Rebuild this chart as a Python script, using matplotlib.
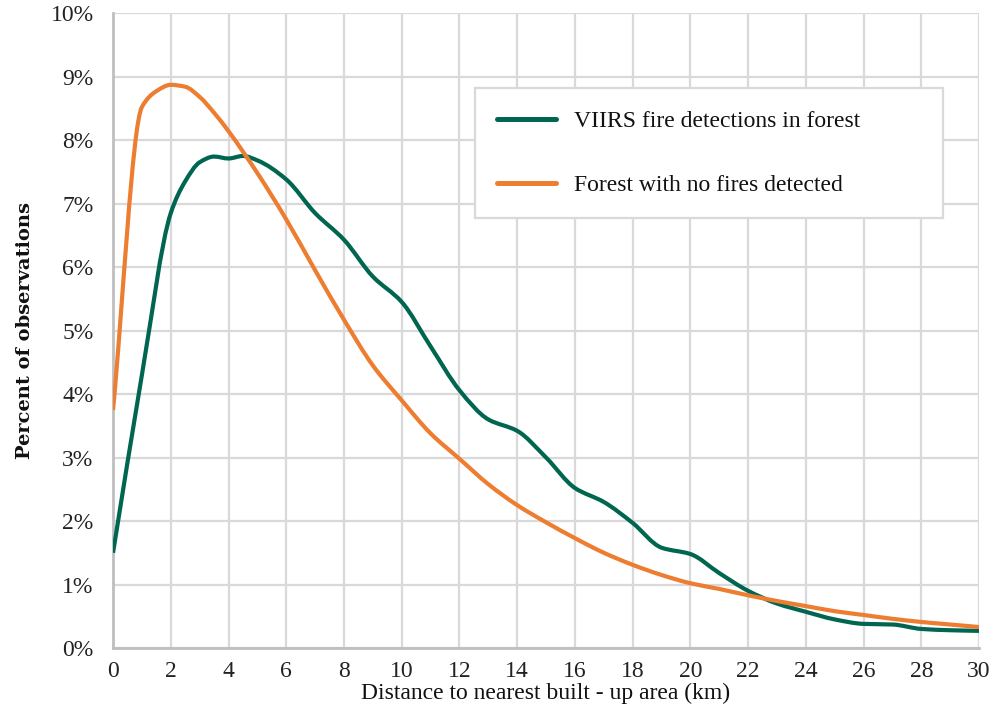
import matplotlib
matplotlib.use("Agg")
import matplotlib.pyplot as plt
from matplotlib.lines import Line2D
from matplotlib.patches import PathPatch
from matplotlib.path import Path
from matplotlib.ticker import FuncFormatter

plt.rcParams["font.family"] = ["Liberation Serif", "DejaVu Serif"]

# distance to nearest built-up area (km)
dist_fire = [0, 1, 2, 2.5, 3, 3.5, 4, 4.5, 5, 6, 7, 8, 9, 10, 11, 12, 13, 14, 15,
             16, 17, 18, 19, 20, 21, 22, 23, 24, 25, 26, 27, 28, 29, 30]
pct_fire = [1.5, 4.3, 6.85, 7.35, 7.65, 7.74, 7.71, 7.75, 7.68, 7.38, 6.85, 6.43,
            5.85, 5.45, 4.75, 4.06, 3.6, 3.42, 3.0, 2.52, 2.3, 1.97, 1.58, 1.48,
            1.18, 0.9, 0.7, 0.57, 0.45, 0.38, 0.37, 0.3, 0.28, 0.27]

dist_nofire = [0, 1, 1.5, 2, 2.5, 3, 3.5, 4, 5, 6, 7, 8, 9, 10, 11, 12, 13, 14, 15,
               16, 17, 18, 19, 20, 21, 22, 23, 24, 25, 26, 27, 28, 29, 30]
pct_nofire = [3.75, 8.52, 8.77, 8.87, 8.84, 8.68, 8.43, 8.14, 7.48, 6.75, 5.95,
              5.17, 4.45, 3.9, 3.38, 2.98, 2.58, 2.25, 1.98, 1.73, 1.5, 1.31, 1.15,
              1.02, 0.93, 0.83, 0.74, 0.66, 0.58, 0.52, 0.46, 0.41, 0.37, 0.33]

labels = ["VIIRS fire detections in forest", "Forest with no fires detected"]

GREEN = "#00664f"
ORANGE = "#ed7d31"


def smooth_path(xs, ys):
    # smoothed line drawn as cubic Bezier segments through the points (pchip tangents)
    n = len(xs)
    h = [xs[i + 1] - xs[i] for i in range(n - 1)]
    d = [(ys[i + 1] - ys[i]) / h[i] for i in range(n - 1)]
    m = [d[0]] + [0.0] * (n - 2) + [d[-1]]
    for k in range(1, n - 1):
        if d[k - 1] * d[k] > 0:
            w1 = 2 * h[k] + h[k - 1]
            w2 = h[k] + 2 * h[k - 1]
            m[k] = (w1 + w2) / (w1 / d[k - 1] + w2 / d[k])
    verts = [(xs[0], ys[0])]
    codes = [Path.MOVETO]
    for i in range(n - 1):
        verts += [(xs[i] + h[i] / 3, ys[i] + m[i] * h[i] / 3),
                  (xs[i + 1] - h[i] / 3, ys[i + 1] - m[i + 1] * h[i] / 3),
                  (xs[i + 1], ys[i + 1])]
        codes += [Path.CURVE4] * 3
    return Path(verts, codes)


fig = plt.figure(figsize=(9.95, 7.15), dpi=100)
ax = fig.add_axes([0.1136, 0.0937, 0.8704, 0.888])

for xs, ys, c in [(dist_fire, pct_fire, GREEN), (dist_nofire, pct_nofire, ORANGE)]:
    ax.add_patch(PathPatch(smooth_path(xs, ys), facecolor="none", edgecolor=c,
                           lw=3.0, capstyle="butt", joinstyle="round", zorder=3))

ax.set_xlim(0, 30)
ax.set_ylim(0, 10)
ax.set_xticks(range(0, 31, 2))
ax.set_yticks(range(0, 11))
ax.yaxis.set_major_formatter(FuncFormatter(lambda v, p: f"{v:.0f}%"))
ax.tick_params(length=0, labelsize=17, colors="#222222")
ax.tick_params(axis="y", pad=14)
ax.tick_params(axis="x", pad=9)

ax.grid(True, color="#d9d9d9", lw=1.6, zorder=0)
ax.set_axisbelow(True)
for s in ["top", "right"]:
    ax.spines[s].set_visible(False)
for s in ["left", "bottom"]:
    ax.spines[s].set_color("#bfbfbf")
    ax.spines[s].set_linewidth(2)

ax.set_xlabel("Distance to nearest built - up area (km)", fontsize=17, labelpad=1,
              color="#111111")
ax.set_ylabel("Percent of observations", fontsize=14, fontweight="bold",
              family="DejaVu Serif", labelpad=12, color="#111111")

handles = [Line2D([], [], color=GREEN, lw=3.6, solid_capstyle="round"),
           Line2D([], [], color=ORANGE, lw=3.6, solid_capstyle="round")]
leg = ax.legend(handles, labels, loc="upper left",
                bbox_to_anchor=(0.418, 0.682, 0.540, 0.2), mode="expand",
                fontsize=17, frameon=True, fancybox=False, edgecolor="#d9d9d9",
                framealpha=1, handlelength=2.5, labelspacing=1.8, borderpad=0.95,
                handletextpad=0.75, borderaxespad=0)
leg.get_frame().set_linewidth(1.6)
for t in leg.get_texts():
    t.set_color("#111111")

plt.savefig("out.png", dpi=100)
